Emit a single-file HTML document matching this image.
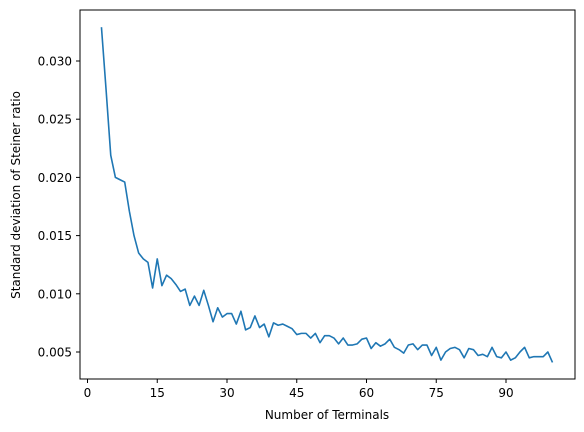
<!DOCTYPE html>
<html><head><meta charset="utf-8"><style>
html,body{margin:0;padding:0;background:#fff;}
svg{display:block;font-family:"DejaVu Sans","Liberation Sans",sans-serif;}
</style></head><body>
<svg id="chart" width="584" height="432">
<rect x="80" y="10" width="495" height="369" fill="#fff"/>
<g id="ticks"></g>
<path id="line" fill="none" stroke="#1f77b4" stroke-width="1.6" stroke-linejoin="round"/>
<rect x="80" y="10" width="495" height="369" fill="none" stroke="#000" stroke-width="1"/>
<text x="327" y="419" text-anchor="middle" font-size="12">Number of Terminals</text>
<text transform="translate(20,195) rotate(-90)" text-anchor="middle" font-size="12">Standard deviation of Steiner ratio</text>
</svg>
<script>
const terminals = [];
for (let n = 3; n <= 100; n++) terminals.push(n);
const stdValues = [0.0329,0.0275,0.0219,0.0200,0.0198,0.0196,0.0171,0.0150,0.0135,0.0130,0.0127,0.0105,0.0130,0.0107,0.0116,0.0113,0.0108,0.0102,0.0104,0.0090,0.0098,0.0090,0.0103,0.0090,0.0076,0.0088,0.0080,0.0083,0.0083,0.0074,0.0085,0.0069,0.0071,0.0081,0.0071,0.0074,0.0063,0.0075,0.0073,0.0074,0.0072,0.0070,0.0065,0.0066,0.0066,0.0062,0.0066,0.0058,0.0064,0.0064,0.0062,0.0057,0.0062,0.0056,0.0056,0.0057,0.0061,0.0062,0.0053,0.0058,0.0055,0.0057,0.0061,0.0054,0.0052,0.0049,0.0056,0.0057,0.0052,0.0056,0.0056,0.0047,0.0054,0.0043,0.0050,0.0053,0.0054,0.0052,0.0045,0.0053,0.0052,0.0047,0.0048,0.0046,0.0054,0.0046,0.0045,0.0050,0.0043,0.0045,0.0050,0.0054,0.0045,0.0046,0.0046,0.0046,0.0050,0.0041];
const xTicks = [0,15,30,45,60,75,90];
const yTicks = [0.005,0.010,0.015,0.020,0.025,0.030];
const yTickLabels = ["0.005","0.010","0.015","0.020","0.025","0.030"];

const xs = v => 87.5 + v * 4.65;
const ys = v => 352 - (v - 0.005) * 11640;
const NS = "http://www.w3.org/2000/svg";
const g = document.getElementById('ticks');
xTicks.forEach(t => {
  const l = document.createElementNS(NS,'line');
  l.setAttribute('x1',xs(t));l.setAttribute('x2',xs(t));l.setAttribute('y1',379);l.setAttribute('y2',383);
  l.setAttribute('stroke','#000');
  
  
  g.appendChild(l);
  const tx = document.createElementNS(NS,'text');
  tx.setAttribute('x',xs(t));tx.setAttribute('y',397);tx.setAttribute('text-anchor','middle');tx.setAttribute('font-size','12');
  tx.textContent = t;
  
  
  g.appendChild(tx);
});
yTicks.forEach((t,i) => {
  const l = document.createElementNS(NS,'line');
  l.setAttribute('x1',76);l.setAttribute('x2',80);l.setAttribute('y1',ys(t));l.setAttribute('y2',ys(t));
  l.setAttribute('stroke','#000');
  
  
  g.appendChild(l);
  const tx = document.createElementNS(NS,'text');
  tx.setAttribute('x',72);tx.setAttribute('y',ys(t)+4.5);tx.setAttribute('text-anchor','end');tx.setAttribute('font-size','12');
  tx.textContent = yTickLabels[i];
  
  
  g.appendChild(tx);
});
document.getElementById('line').setAttribute('d',
  terminals.map((n,i) => (i ? 'L' : 'M') + xs(n).toFixed(2) + ',' + ys(stdValues[i]).toFixed(2)).join(' '));
</script>
</body></html>
